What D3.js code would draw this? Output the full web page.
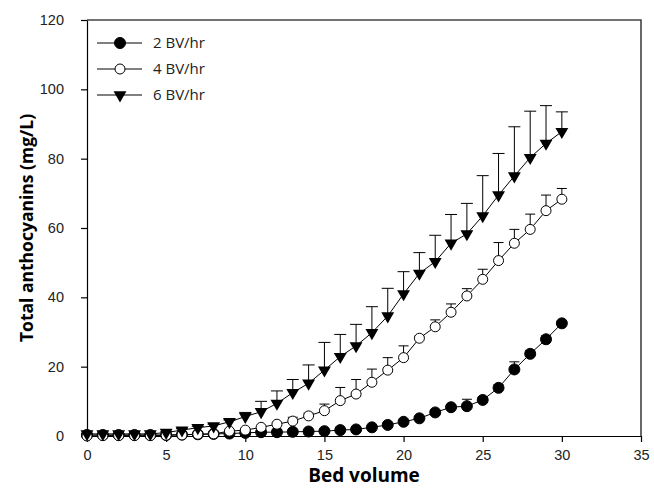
<!DOCTYPE html>
<html>
<head>
<meta charset="utf-8">
<script src="https://cdn.jsdelivr.net/npm/d3@7"></script>
<style>
  body { margin: 0; background: #fff; }
  svg { display: block; font-family: "Open Sans", sans-serif; }
</style>
</head>
<body>
<svg id="chart"></svg>
<script>
// Bed volumes sampled
const bedVolume = d3.range(0, 31);

// Total anthocyanins (mg/L) per flow rate
const rate2 = [0.3, 0.3, 0.3, 0.3, 0.3, 0.3, 0.4, 0.5, 0.6, 0.7, 0.9, 1.1, 1.1, 1.2, 1.3, 1.4,
  1.7, 1.9, 2.5, 3.2, 4.1, 5.1, 6.8, 8.3, 8.6, 10.4, 13.9, 19.2, 23.7, 27.9, 32.5];
const err2 = [0, 0, 0, 0, 0, 0, 0, 0, 0, 0, 0.2, 0.2, 0.2, 0.2, 0.3, 0.3,
  0.3, 0.3, 0.4, 0.4, 0.5, 0.5, 0.6, 0.8, 2.0, 0.8, 0.9, 2.2, 1.0, 1.0, 0.8];

const rate4 = [0, 0.1, 0.1, 0.1, 0.1, 0.2, 0.3, 0.5, 0.6, 1.4, 1.7, 2.5, 3.4, 4.3, 5.8, 7.3,
  10.2, 12.1, 15.5, 19.0, 22.6, 28.2, 31.5, 35.7, 40.4, 45.2, 50.6, 55.6, 59.6, 65.0, 68.3];
const err4 = [0, 0, 0, 0, 0, 0, 0.2, 0.2, 0.2, 0.3, 0.3, 0.4, 0.5, 1.1, 0.8, 1.9,
  3.8, 4.2, 3.8, 3.6, 3.4, 0.6, 2.0, 2.4, 2.1, 2.9, 5.2, 4.0, 4.4, 4.5, 3.1];

const rate6 = [0.6, 0.6, 0.6, 0.6, 0.6, 1.0, 1.7, 2.4, 2.9, 4.1, 5.6, 7.0, 9.4, 12.5, 15.2, 19.0,
  22.9, 26.0, 29.8, 34.6, 41.0, 46.9, 50.3, 55.6, 58.3, 63.5, 69.5, 75.0, 80.3, 84.4, 87.8];
const err6 = [0, 0, 0, 0, 0, 0.2, 0.4, 0.4, 0.5, 0.5, 1.2, 3.0, 3.6, 3.8, 5.3, 8.0,
  6.4, 6.2, 7.5, 8.0, 6.4, 6.0, 7.6, 8.3, 8.8, 11.6, 12.0, 14.2, 13.4, 10.9, 5.7];

const seriesNames = ["2 BV/hr", "4 BV/hr", "6 BV/hr"];
const xTicks = [0, 5, 10, 15, 20, 25, 30, 35];
const yTicks = [0, 20, 40, 60, 80, 100, 120];

const width = 654, height = 488;
const margin = { left: 87, right: 13, top: 20, bottom: 52 };

const svg = d3.select("#chart").attr("width", width).attr("height", height);

const x = d3.scaleLinear().domain([0, 35]).range([margin.left, width - margin.right]);
const y = d3.scaleLinear().domain([0, 120]).range([height - margin.bottom, margin.top]);

// frame: top and right borders
svg.append("path")
  .attr("d", `M${x(0)},${y(120)}H${x(35)}V${y(0)}`)
  .attr("fill", "none")
  .attr("stroke", "#444")
  .attr("stroke-width", 1.6);

// axes
const xAxis = svg.append("g")
  .attr("transform", `translate(0,${y(0)})`)
  .call(d3.axisBottom(x).tickValues(xTicks).tickSizeInner(6).tickSizeOuter(0).tickPadding(8));
const yAxis = svg.append("g")
  .attr("transform", `translate(${x(0)},0)`)
  .call(d3.axisLeft(y).tickValues(yTicks).tickSizeInner(6).tickSizeOuter(0).tickPadding(17));

[xAxis, yAxis].forEach(g => {
  g.selectAll("path, line").attr("stroke", "#000").attr("stroke-width", 1.2);
  g.selectAll("text").attr("fill", "#222").style("font-size", "14.5px");
});

// axis titles
svg.append("text")
  .attr("x", (x(0) + x(35)) / 2)
  .attr("y", 482)
  .attr("text-anchor", "middle")
  .style("font-size", "19px")
  .style("font-weight", "bold")
  .text("Bed volume");

svg.append("text")
  .attr("transform", `translate(33,${(y(0) + y(120)) / 2}) rotate(-90)`)
  .attr("text-anchor", "middle")
  .style("font-size", "17.5px")
  .style("font-weight", "bold")
  .text("Total anthocyanins (mg/L)");

const series = [
  { name: seriesNames[0], values: rate2, errs: err2, marker: "filled" },
  { name: seriesNames[1], values: rate4, errs: err4, marker: "open" },
  { name: seriesNames[2], values: rate6, errs: err6, marker: "tri" }
];

const line = d3.line().x((d, i) => x(bedVolume[i])).y(d => y(d));
const tri = d3.symbol().type(d3.symbolTriangle).size(72);

function drawMarker(g, type, cx, cy) {
  if (type === "tri") {
    g.append("path")
      .attr("d", tri())
      .attr("transform", `translate(${cx},${cy}) rotate(180)`)
      .attr("fill", "#000");
  } else {
    g.append("circle")
      .attr("cx", cx).attr("cy", cy).attr("r", type === "filled" ? 5.5 : 5)
      .attr("fill", type === "filled" ? "#000" : "#fff")
      .attr("stroke", "#000")
      .attr("stroke-width", 1);
  }
}

// error bars (upper only)
series.forEach(s => {
  const capW = s.marker === "tri" ? 6 : 5;
  const g = svg.append("g").attr("stroke", "#000").attr("stroke-width", 1);
  s.values.forEach((v, i) => {
    const top = y(v + s.errs[i]);
    const cx = x(bedVolume[i]);
    g.append("line").attr("x1", cx).attr("x2", cx).attr("y1", y(v)).attr("y2", top);
    g.append("line").attr("x1", cx - capW).attr("x2", cx + capW).attr("y1", top).attr("y2", top);
  });
});

// lines
series.forEach(s => {
  svg.append("path")
    .attr("d", line(s.values))
    .attr("fill", "none")
    .attr("stroke", "#000")
    .attr("stroke-width", 1);
});

// markers
series.forEach(s => {
  const g = svg.append("g");
  s.values.forEach((v, i) => drawMarker(g, s.marker, x(bedVolume[i]), y(v)));
});

// legend
const legend = svg.append("g");
series.forEach((s, i) => {
  const ly = [43, 69, 95][i];
  legend.append("line")
    .attr("x1", 97).attr("x2", 142).attr("y1", ly).attr("y2", ly)
    .attr("stroke", "#000").attr("stroke-width", 1);
  drawMarker(legend, s.marker, 120, ly);
  legend.append("text")
    .attr("x", 153).attr("y", ly)
    .attr("dy", "0.35em")
    .style("font-size", "15px")
    .attr("fill", "#222")
    .text(s.name);
});
</script>
</body>
</html>
